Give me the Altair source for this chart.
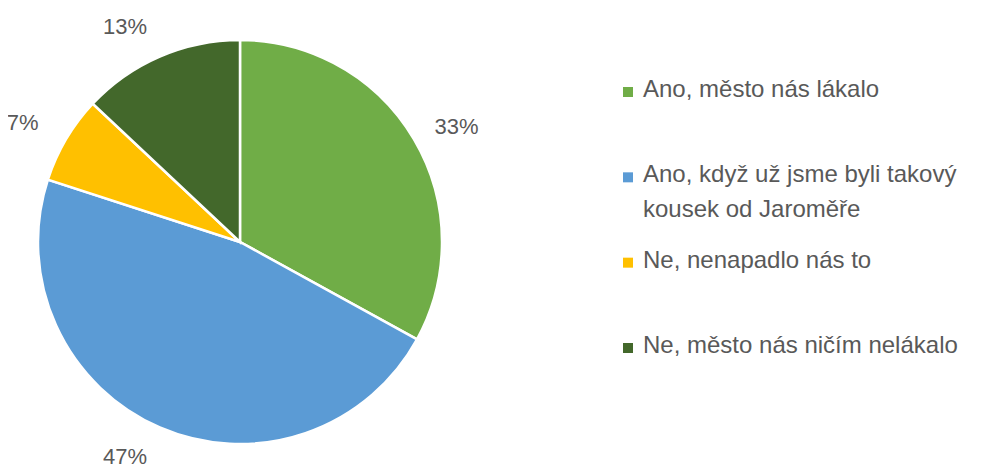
import altair as alt
import pandas as pd

categories = ["Ano, město nás lákalo",
              "Ano, když už jsme byli takový kousek od Jaroměře",
              "Ne, nenapadlo nás to",
              "Ne, město nás ničím nelákalo"]
legend_labels = ["Ano, město nás lákalo",
                 "Ano, když už jsme byli takový\nkousek od Jaroměře",
                 "Ne, nenapadlo nás to",
                 "Ne, město nás ničím nelákalo"]
values = [33, 47, 7, 13]
colors = ["#70AD47", "#5B9BD5", "#FFC000", "#43682B"]

df = pd.DataFrame({"cat": categories, "legend": legend_labels, "value": values,
                   "idx": list(range(len(values)))})
df["mid"] = df["value"].cumsum() - df["value"] / 2
df["label"] = df["value"].astype(str) + "%"
df["side"] = ["right" if m < 50 else "left" for m in df["mid"]]

FONT = "Liberation Sans"
TXT = "#595959"
CX, CY, R = 232, 234, 202

color = alt.Color("cat:N", scale=alt.Scale(domain=categories, range=colors), legend=None)
theta_scale = alt.Scale(domain=[0, 100])

base = alt.Chart(df)

pie = base.mark_arc(radius=R, stroke="white", strokeWidth=2.5).encode(
    theta=alt.Theta("value:Q", stack=True, scale=theta_scale),
    order=alt.Order("idx:Q"),
    color=color,
    x=alt.value(CX), y=alt.value(CY),
)

lab_r = base.transform_filter(alt.datum.side == "right").mark_text(
    radius=226, align="left", baseline="middle", font=FONT, fontSize=22, color=TXT
).encode(
    theta=alt.Theta("mid:Q", stack=None, scale=theta_scale),
    text="label:N", x=alt.value(CX), y=alt.value(CY),
)
lab_l = base.transform_filter(alt.datum.side == "left").mark_text(
    radius=234, align="right", baseline="middle", font=FONT, fontSize=22, color=TXT
).encode(
    theta=alt.Theta("mid:Q", stack=None, scale=theta_scale),
    text="label:N", x=alt.value(CX), y=alt.value(CY),
)

ypos = alt.Y("cat:N", scale=alt.Scale(type="point", padding=0, domain=categories,
                                      range=[84, 340]), axis=None)

leg_sq = base.mark_square(size=100, opacity=1).encode(
    x=alt.value(620), y=ypos, color=color,
)
leg_txt = base.mark_text(
    align="left", baseline="top", dy=-14, lineBreak="\n", lineHeight=35,
    font=FONT, fontSize=24, color=TXT
).encode(
    x=alt.value(635), y=ypos, text="legend:N",
)

chart = alt.layer(pie, lab_r, lab_l, leg_sq, leg_txt).properties(
    width=968, height=460, padding=0, autosize="none"
).configure_view(stroke=None)

chart.save("out.html", embed_options={"renderer": "svg", "actions": False})
